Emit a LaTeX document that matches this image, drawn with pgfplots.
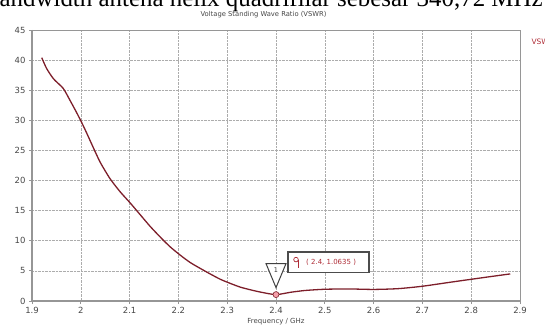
\documentclass[border=0pt]{standalone}
\usepackage{fontspec}
\setmainfont{DejaVu Sans}
\newfontfamily\seriffont{Liberation Serif}
\usepackage{pgfplots}
\pgfplotsset{compat=1.18}
\definecolor{curve}{RGB}{125,30,42}
\definecolor{frame}{RGB}{150,150,150}
\definecolor{vred}{RGB}{175,45,55}
\definecolor{txt}{RGB}{70,70,70}
\definecolor{mfill}{RGB}{245,160,170}
\begin{document}
\begin{tikzpicture}
\path[use as bounding box] (0bp,0bp) rectangle (545bp,331bp);
\node[anchor=base west, font=\seriffont\fontsize{25}{25}\selectfont, inner sep=0] at (-13bp,324bp) {bandwidth antena helix quadrifilar sebesar 340,72 MHz};
\node[font=\fontsize{6.8}{7}\selectfont, color=txt] at (263.5bp,316.5bp) {Voltage Standing Wave Ratio (VSWR)};
\node[anchor=west, font=\fontsize{7.5}{8}\selectfont, color=vred] at (528bp,289bp) {VSWR};
\begin{axis}[
  at={(32bp,30bp)}, anchor=south west,
  scale only axis, width=488bp, height=271bp,
  xmin=1.9, xmax=2.9, ymin=0, ymax=45,
  xtick={1.9,2.0,2.1,2.2,2.3,2.4,2.5,2.6,2.7,2.8,2.9},
  xticklabels={1.9,2,2.1,2.2,2.3,2.4,2.5,2.6,2.7,2.8,2.9},
  ytick={0,5,10,15,20,25,30,35,40,45},
  xtick pos=left, ytick pos=left,
  tick align=outside, major tick length=3bp,
  tick style={frame, line width=0.8bp},
  grid=major, grid style={densely dotted, line width=0.6bp, gray!65},
  axis line style={frame, line width=0.8bp},
  tick label style={font=\fontsize{8.5}{9}\selectfont, color=txt},
  /pgf/number format/assume math mode=true,
  xlabel={Frequency / GHz},
  xlabel style={font=\fontsize{7}{8}\selectfont, color=txt, at={(axis description cs:0.5,0)}, anchor=north, yshift=-14bp},
  clip=false,
]
\draw[frame, line width=2bp] (rel axis cs:0,1) -- (rel axis cs:0,0) -- (rel axis cs:1,0);
\addplot[curve, line width=1.3bp, smooth, tension=0.4] coordinates {
(1.920,40.4) (1.930,38.6) (1.944,36.9) (1.964,35.3) (1.978,33.3) (1.992,31.2)
(2.002,29.6) (2.012,27.9) (2.026,25.4) (2.040,23.0) (2.060,20.3) (2.081,18.1)
(2.101,16.3) (2.122,14.3) (2.142,12.4) (2.163,10.6) (2.183,9.0) (2.204,7.6)
(2.224,6.4) (2.245,5.4) (2.265,4.5) (2.286,3.6) (2.307,2.9) (2.327,2.3)
(2.348,1.85) (2.370,1.45) (2.400,1.06) (2.430,1.45) (2.460,1.75) (2.500,1.95)
(2.550,2.0) (2.600,1.92) (2.650,2.05) (2.700,2.45) (2.760,3.15) (2.826,3.9)
(2.880,4.5)
};
\addplot[only marks, mark=*, mark size=3bp, mark options={fill=mfill, draw=curve, line width=0.6bp}] coordinates {(2.4,1.0635)};
\draw[black!75, line width=1bp, fill=white] ([yshift=7bp]axis cs:2.4,1.0635) -- ++(-10bp,24bp) -- ++(20bp,0bp) -- cycle;
\node[font=\fontsize{6.5}{7}\selectfont, color=black!80] at ([yshift=24bp]axis cs:2.4,1.0635) {1};
\draw[black!70, line width=1.6bp, fill=white] ([xshift=12bp,yshift=22bp]axis cs:2.4,1.0635) rectangle ++(81bp,20.5bp);
\draw[vred, line width=0.7bp] ([xshift=20bp,yshift=35bp]axis cs:2.4,1.0635) circle (2.3bp);
\draw[vred, line width=0.7bp] ([xshift=22.3bp,yshift=35bp]axis cs:2.4,1.0635) -- ++(0bp,-8.5bp);
\node[anchor=west, font=\fontsize{7}{8}\selectfont, color=vred, inner sep=0] at ([xshift=30bp,yshift=32.5bp]axis cs:2.4,1.0635) {( 2.4, 1.0635 )};
\end{axis}
\end{tikzpicture}
\end{document}
